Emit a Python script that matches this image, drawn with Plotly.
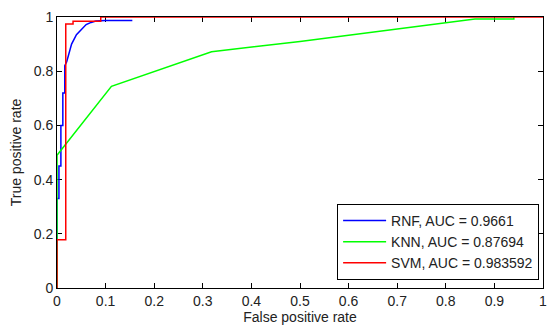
import plotly.graph_objects as go

# ROC curve data
rnf_fpr = [0, 0, 0.004, 0.004, 0.008, 0.008, 0.012, 0.012, 0.016, 0.016, 0.02, 0.025, 0.03,
           0.04, 0.05, 0.06, 0.07, 0.08, 0.1, 0.155]
rnf_tpr = [0, 0.33, 0.33, 0.45, 0.45, 0.6, 0.6, 0.72, 0.72, 0.82, 0.835, 0.87, 0.9,
           0.935, 0.955, 0.972, 0.98, 0.985, 0.987, 0.987]

knn_fpr = [0, 0, 0.112, 0.318, 0.5, 0.7, 0.86, 0.94, 0.94]
knn_tpr = [0, 0.49, 0.744, 0.872, 0.91, 0.956, 0.993, 0.993, 1.0]

svm_fpr = [0, 0, 0.018, 0.018, 0.033, 0.033, 0.09, 0.09, 1.0]
svm_tpr = [0, 0.178, 0.178, 0.974, 0.974, 0.984, 0.984, 1.0, 1.0]

names = ["RNF, AUC = 0.9661", "KNN, AUC = 0.87694", "SVM, AUC = 0.983592"]
colors = ["#0000FF", "#00FF00", "#FF0000"]

x_ticks = [0, 0.1, 0.2, 0.3, 0.4, 0.5, 0.6, 0.7, 0.8, 0.9, 1]
x_ticklabels = ["0", "0.1", "0.2", "0.3", "0.4", "0.5", "0.6", "0.7", "0.8", "0.9", "1"]
y_ticks = [0, 0.2, 0.4, 0.6, 0.8, 1]
y_ticklabels = ["0", "0.2", "0.4", "0.6", "0.8", "1"]

FONT = "Liberation Sans, Arial, sans-serif"

fig = go.Figure()
for xs, ys, nm, c in zip([rnf_fpr, knn_fpr, svm_fpr], [rnf_tpr, knn_tpr, svm_tpr], names, colors):
    fig.add_trace(go.Scatter(x=xs, y=ys, mode="lines", name=nm,
                             line=dict(color=c, width=1.5), cliponaxis=False))

axis_common = dict(showline=True, linecolor="black", linewidth=1, mirror="ticks",
                   ticks="inside", ticklen=5, tickcolor="black", tickwidth=1,
                   showgrid=False, zeroline=False, layer="below traces",
                   ticklabeloverflow="allow",
                   tickfont=dict(family=FONT, size=14, color="#222222"))

fig.update_xaxes(range=[0, 1], tickvals=x_ticks, ticktext=x_ticklabels,
                 title=dict(text="False positive rate", font=dict(family=FONT, size=14, color="#222222"),
                            standoff=4),
                 **axis_common)
fig.update_yaxes(range=[0, 1], tickvals=y_ticks, ticktext=y_ticklabels,
                 title=dict(text="True positive rate", font=dict(family=FONT, size=14, color="#222222"),
                            standoff=8),
                 **axis_common)

fig.update_layout(
    width=549, height=329,
    margin=dict(l=57, r=2, t=17, b=41),
    paper_bgcolor="white", plot_bgcolor="white",
    font=dict(family=FONT, size=14, color="#222222"),
    legend=dict(x=0.992, y=0.03, xanchor="right", yanchor="bottom",
                bordercolor="black", borderwidth=1, bgcolor="white",
                font=dict(family=FONT, size=14, color="#222222"),
                itemwidth=43, tracegroupgap=0),
    showlegend=True,
)

fig.write_html("out.html", config={"displayModeBar": False},
               post_script="document.body.style.margin='0';document.body.style.overflow='hidden';")
